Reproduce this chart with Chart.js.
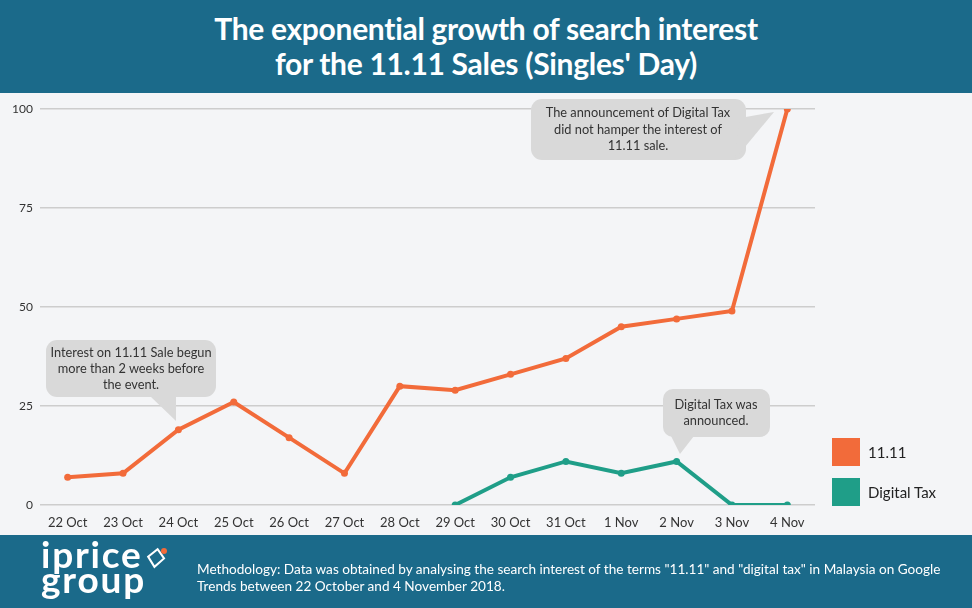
<!DOCTYPE html>
<html>
<head>
<meta charset="utf-8">
<script src="https://cdn.jsdelivr.net/npm/chart.js@4/dist/chart.umd.min.js"></script>
<style>
  html, body { margin:0; padding:0; }
  body { width:972px; height:608px; position:relative; overflow:hidden; background:#f4f5f7; font-family: Lato, "Open Sans", sans-serif; }
  #header { position:absolute; left:0; top:0; width:972px; height:93px; background:#1b6a8a; color:#fff; text-align:center; }
  #header h1 { margin:0; padding-top:11px; font-size:30px; line-height:35px; font-weight:700; letter-spacing:-0.3px; }
  #footer { position:absolute; left:0; top:535px; width:972px; height:73px; background:#1b6a8a; color:#fff; }
  #logo { position:absolute; left:41px; top:6px; font-size:37px; line-height:25px; font-weight:700; color:#fff; letter-spacing:1.8px; }
  #method { position:absolute; left:197px; top:26px; font-size:13.6px; line-height:17px; color:#fff; width:750px; }
  #wrap { position:absolute; left:0; top:93px; width:972px; height:442px; }
  #legend { position:absolute; left:832px; top:438px; }
  .li { position:relative; height:40px; }
  .sw { position:absolute; left:0; top:0; width:28px; height:28px; }
  .lt { position:absolute; left:36px; top:5px; font-size:15px; color:#222; white-space:nowrap; }
  #notes { position:absolute; left:0; top:0; }
</style>
</head>
<body>
<div id="header"><h1>The exponential growth of search interest<br>for the 11.11 Sales (Singles' Day)</h1></div>
<div id="wrap"><canvas id="c"></canvas></div>
<svg id="notes" width="972" height="608" xmlns="http://www.w3.org/2000/svg" font-family="Lato, 'Open Sans', sans-serif" font-size="12.8" fill="#333">
  <g fill="#d9d9d9">
    <rect x="46" y="340" width="170" height="57" rx="11"/>
    <path d="M150 396 L176 396 L176 421 Z"/>
    <rect x="663" y="389" width="107" height="48" rx="10"/>
    <path d="M671 436 L694 436 L680 454 Z"/>
    <rect x="531" y="99" width="215" height="61" rx="11"/>
    <path d="M740 118 L774 112 L735 159 Z"/>
  </g>
  <g text-anchor="middle" fill="#333">
    <text x="131" y="357">Interest on 11.11 Sale begun</text>
    <text x="131" y="373">more than 2 weeks before</text>
    <text x="131" y="389">the event.</text>
    <text x="716" y="409">Digital Tax was</text>
    <text x="716" y="425">announced.</text>
    <text x="638" y="117">The announcement of Digital Tax</text>
    <text x="638" y="134">did not hamper the interest of</text>
    <text x="638" y="150">11.11 sale.</text>
  </g>
</svg>
<div id="legend"></div>
<div id="footer">
  <div id="logo">iprice<br>group</div>
  <svg style="position:absolute;left:144px;top:10px" width="30" height="30">
    <path d="M12 4 L20 12 L12 22 L4 13 Z" fill="none" stroke="#fff" stroke-width="2" transform="rotate(10 12 13)"/>
    <circle cx="20" cy="6" r="3" fill="#f26b3a"/>
  </svg>
  <div id="method">Methodology: Data was obtained by analysing the search interest of the terms "11.11" and "digital tax" in Malaysia on Google Trends between 22 October and 4 November 2018.</div>
</div>
<script>
const categories = ["22 Oct","23 Oct","24 Oct","25 Oct","26 Oct","27 Oct","28 Oct","29 Oct","30 Oct","31 Oct","1 Nov","2 Nov","3 Nov","4 Nov"];
const sales1111 = [7, 8, 19, 26, 17, 8, 30, 29, 33, 37, 45, 47, 49, 100];
const digitalTax = [null, null, null, null, null, null, null, 0, 7, 11, 8, 11, 0, 0];
const yTicks = [0, 25, 50, 75, 100];
const seriesNames = ["11.11", "Digital Tax"];
const seriesColors = ["#f26b3a", "#1f9e88"];

const chart = new Chart(document.getElementById('c'), {
  type: 'line',
  data: {
    labels: categories,
    datasets: [
      { label: seriesNames[0], data: sales1111, borderColor: seriesColors[0], backgroundColor: seriesColors[0], borderWidth: 4, pointRadius: 3.5, pointBackgroundColor: seriesColors[0], pointBorderWidth: 0, tension: 0 },
      { label: seriesNames[1], data: digitalTax, borderColor: seriesColors[1], backgroundColor: seriesColors[1], borderWidth: 4, pointRadius: 3.5, pointBackgroundColor: seriesColors[1], pointBorderWidth: 0, tension: 0 }
    ]
  },
  options: {
    responsive: true,
    maintainAspectRatio: false,
    animation: false,
    layout: { padding: { top: 16, right: 157, left: 0, bottom: 0 } },
    plugins: { legend: { display: false }, tooltip: { enabled: false } },
    scales: {
      x: {
        offset: true,
        grid: { display: false, drawTicks: false },
        border: { display: false },
        ticks: { color: '#333', font: { family: 'Lato', size: 13 }, padding: 10, maxRotation: 0, autoSkip: false },
        afterFit: s => { s.height = 30; }
      },
      y: {
        min: 0, max: 100,
        afterBuildTicks: s => { s.ticks = yTicks.map(v => ({ value: v })); },
        grid: { color: '#cdcdcd', lineWidth: 1.5, drawTicks: false },
        border: { display: false },
        ticks: { color: '#333', font: { family: 'Lato', size: 12 }, padding: 7 },
        afterFit: s => { s.width = 40; }
      }
    }
  }
});

const lg = document.getElementById('legend');
seriesNames.forEach((n, i) => {
  const d = document.createElement('div'); d.className = 'li';
  d.innerHTML = '<div class="sw" style="background:' + seriesColors[i] + '"></div><div class="lt">' + n + '</div>';
  lg.appendChild(d);
});
</script>
</body>
</html>
